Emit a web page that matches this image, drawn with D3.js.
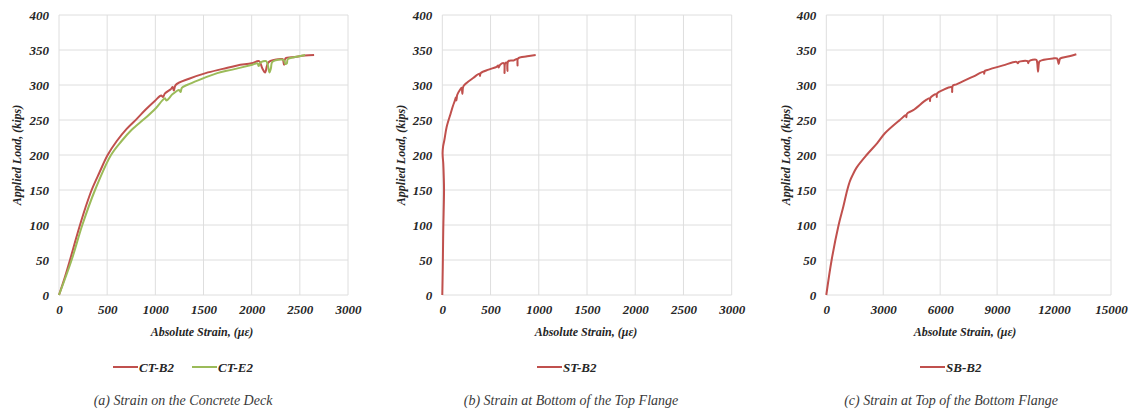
<!DOCTYPE html>
<html>
<head>
<meta charset="utf-8">
<script src="https://cdn.jsdelivr.net/npm/d3@7"></script>
<style>
  body { margin: 0; background: #fff; }
  svg { display: block; }
  svg text { font-family: "Liberation Serif", "Times New Roman", Times, serif; }
</style>
</head>
<body>
<svg id="chart" width="1133" height="411"></svg>
<script>
// Load–strain readings, [absolute strain (µε), applied load (kips)]
const ctB2 = [
  [0,0],[60,25],[114,50],[165,75],[218,100],[275,125],[339,150],[420,175],[505,200],
  [600,220],[700,237],[810,252],[900,265],[1000,278],[1060,285],[1080,283],[1100,288],
  [1160,294],[1180,297],[1192,292],[1211,300],[1350,309],[1523,317],[1700,323],
  [1850,328],[2000,331],[2077,334],[2110,324],[2139,318],[2160,328],[2180,333],
  [2300,337],[2322,337],[2336,329],[2350,338],[2450,340],[2550,342],[2648,343]
];
const ctE2 = [
  [0,0],[131,50],[242,100],[374,150],[540,200],[650,220],[755,236],[890,252],[1000,266],
  [1073,278],[1100,281],[1115,278],[1180,287],[1245,293],[1263,290],[1275,296],[1329,300],
  [1450,307],[1643,317],[1800,322],[2007,329],[2060,331],[2072,327],[2090,332],[2150,334],
  [2165,330],[2185,318],[2200,324],[2215,333],[2330,336],[2350,330],[2365,331],[2375,337],
  [2450,340],[2555,343]
];
const stB2 = [
  [0,0],[5,40],[10,93],[18,150],[15,170],[10,188],[3,202],[8,212],[21,221],[45,240],
  [86,259],[110,270],[131,278],[140,282],[146,278],[155,286],[183,293],[200,296],
  [208,287],[218,298],[252,303],[320,310],[385,316],[391,313],[398,317],[480,322],
  [563,326],[578,328],[583,325],[600,329],[638,331],[645,317],[652,331],[668,332],
  [675,320],[684,334],[740,335],[775,337],[780,328],[786,338],[880,341],[968,343]
];
const sbB2 = [
  [0,0],[281,50],[649,100],[895,126],[1105,150],[1250,163],[1400,172],[1596,182],[2122,200],
  [2684,217],[3087,231],[3876,250],[4200,257],[4220,254],[4250,259],[4578,264],
  [5280,279],[5450,281],[5465,277],[5490,282],[5806,287],[5820,283],[5840,288],
  [6157,293],[6600,297],[6630,290],[6665,299],[6858,301],[7735,312],[8300,319],
  [8320,316],[8350,320],[8437,321],[9314,328],[10016,333],[10090,331],[10140,333],
  [10600,334],[10640,331],[10680,334],[11068,336],[11110,332],[11156,319],[11200,331],
  [11240,334],[11945,338],[12150,338],[12200,335],[12243,330],[12290,336],[12330,338],
  [12800,341],[13173,344]
];

const loadTicks = [0, 50, 100, 150, 200, 250, 300, 350, 400];
const strainTicksDeck = [0, 500, 1000, 1500, 2000, 2500, 3000];
const strainTicksFlange = [0, 3000, 6000, 9000, 12000, 15000];

const RED = "#c0504d";
const GREEN = "#9bbb59";
const TEXT = "#262626";
const GRID = "#dedede";

const plotTop = 15, plotBottom = 295;

const panels = [
  {
    left: 59, right: 348, xMax: 3000, xTicks: strainTicksDeck,
    series: [
      { name: "CT-B2", data: ctB2, color: RED, legendX: 113 },
      { name: "CT-E2", data: ctE2, color: GREEN, legendX: 192 }
    ],
    yTitleX: 17, xTitleX: 202,
    caption: "(a) Strain on the Concrete Deck", captionX: 183
  },
  {
    left: 442.3, right: 731.7, xMax: 3000, xTicks: strainTicksDeck,
    series: [{ name: "ST-B2", data: stB2, color: RED, legendX: 537 }],
    yTitleX: 401, xTitleX: 586,
    caption: "(b) Strain at Bottom of the Top Flange", captionX: 571
  },
  {
    left: 826.3, right: 1111, xMax: 15000, xTicks: strainTicksFlange,
    series: [{ name: "SB-B2", data: sbB2, color: RED, legendX: 920 }],
    yTitleX: 786, xTitleX: 965,
    caption: "(c) Strain at Top of the Bottom Flange", captionX: 951
  }
];

const svg = d3.select("#chart");
svg.append("rect").attr("width", 1133).attr("height", 411).attr("fill", "#fff");

const y = d3.scaleLinear().domain([0, 400]).range([plotBottom, plotTop]);

function boldItalic(sel, size) {
  return sel.style("font-size", size + "px")
    .style("font-weight", "bold").style("font-style", "italic")
    .attr("fill", TEXT);
}

panels.forEach(p => {
  const x = d3.scaleLinear().domain([0, p.xMax]).range([p.left, p.right]);
  const g = svg.append("g");

  // gridlines
  g.append("g").selectAll("line").data(loadTicks).join("line")
    .attr("x1", p.left).attr("x2", p.right)
    .attr("y1", d => y(d)).attr("y2", d => y(d))
    .attr("stroke", GRID).attr("stroke-width", 1);
  g.append("g").selectAll("line").data(p.xTicks).join("line")
    .attr("x1", d => x(d)).attr("x2", d => x(d))
    .attr("y1", plotTop).attr("y2", plotBottom)
    .attr("stroke", GRID).attr("stroke-width", 1);

  // axes (labels only)
  const yAxis = g.append("g").attr("transform", `translate(${p.left},0)`)
    .call(d3.axisLeft(y).tickValues(loadTicks).tickSize(0).tickPadding(10));
  const xAxis = g.append("g").attr("transform", `translate(0,${plotBottom})`)
    .call(d3.axisBottom(x).tickValues(p.xTicks).tickSize(0).tickPadding(10).tickFormat(d3.format("d")));
  [yAxis, xAxis].forEach(a => {
    a.attr("font-family", null);
    a.select(".domain").remove();
    boldItalic(a.selectAll("text"), 13);
  });

  // series
  const line = d3.line().curve(d3.curveCatmullRom.alpha(0.5))
    .x(d => x(d[0])).y(d => y(d[1]));
  p.series.forEach(s => {
    g.append("path").datum(s.data)
      .attr("fill", "none").attr("stroke", s.color)
      .attr("stroke-width", 2).attr("stroke-linejoin", "round")
      .attr("d", line);
  });

  // axis titles
  boldItalic(g.append("text")
    .attr("transform", `translate(${p.yTitleX},${(plotTop + plotBottom) / 2}) rotate(-90)`)
    .attr("text-anchor", "middle").attr("dominant-baseline", "central"), 12)
    .text("Applied Load, (kips)");
  boldItalic(g.append("text")
    .attr("x", p.xTitleX).attr("y", 332)
    .attr("text-anchor", "middle").attr("dominant-baseline", "central"), 12)
    .text("Absolute Strain, (\u03bc\u03b5)");

  // legend
  p.series.forEach(s => {
    g.append("line")
      .attr("x1", s.legendX).attr("x2", s.legendX + 25)
      .attr("y1", 367).attr("y2", 367)
      .attr("stroke", s.color).attr("stroke-width", 2);
    boldItalic(g.append("text")
      .attr("x", s.legendX + 26).attr("y", 367)
      .attr("dominant-baseline", "central"), 13)
      .text(s.name);
  });

  // caption
  g.append("text")
    .attr("x", p.captionX).attr("y", 400)
    .attr("text-anchor", "middle").attr("dominant-baseline", "central")
    .style("font-size", "14px").style("font-style", "italic")
    .attr("fill", "#3a3a3a")
    .text(p.caption);
});
</script>
</body>
</html>
